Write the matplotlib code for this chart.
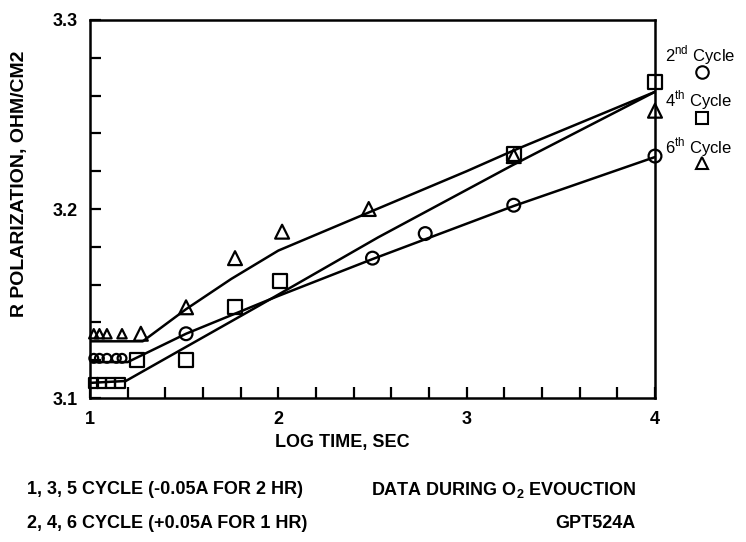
import matplotlib
matplotlib.use("Agg")
import matplotlib.pyplot as plt
from matplotlib.lines import Line2D
from matplotlib.ticker import MultipleLocator

plt.rcParams['font.family'] = ['DejaVu Sans Condensed', 'Liberation Sans Narrow',
                               'Liberation Sans', 'DejaVu Sans']

cyc2_x = [1.02, 1.05, 1.09, 1.14, 1.17, 1.51, 2.50, 2.78, 3.25, 4.00]
cyc2_y = [3.121, 3.121, 3.121, 3.121, 3.121, 3.134, 3.174, 3.187, 3.202, 3.228]

cyc4_x = [1.02, 1.06, 1.11, 1.16, 1.25, 1.51, 1.77, 2.01, 3.25, 4.00]
cyc4_y = [3.108, 3.108, 3.108, 3.108, 3.120, 3.120, 3.148, 3.162, 3.229, 3.267]

cyc6_x = [1.02, 1.05, 1.09, 1.17, 1.27, 1.51, 1.77, 2.02, 2.48, 3.25, 4.00]
cyc6_y = [3.134, 3.134, 3.134, 3.134, 3.134, 3.148, 3.174, 3.188, 3.200, 3.228, 3.252]

# hand-drawn fit curves
fit2_x = [1.0, 1.20, 1.51, 2.0, 2.5, 3.25, 4.0]
fit2_y = [3.119, 3.119, 3.134, 3.154, 3.1735, 3.2016, 3.2275]
fit4_x = [1.0, 1.19, 1.90, 2.53, 3.24, 4.0]
fit4_y = [3.108, 3.109, 3.149, 3.185, 3.223, 3.262]
fit6_x = [1.0, 1.28, 1.51, 1.75, 2.0, 2.5, 3.0, 3.25, 4.0]
fit6_y = [3.130, 3.130, 3.147, 3.163, 3.178, 3.199, 3.220, 3.231, 3.262]

x_ticks = [1, 2, 3, 4]
y_ticks = [3.1, 3.2, 3.3]
y_ticklabels = ["3.1", "3.2", "3.3"]

W, H = 746, 542
fig = plt.figure(figsize=(W / 100, H / 100), dpi=100)
ax = fig.add_axes([90 / W, 1 - 398 / H, 565 / W, 378 / H])

for fx, fy in ((fit2_x, fit2_y), (fit4_x, fit4_y), (fit6_x, fit6_y)):
    ax.plot(fx, fy, color="black", lw=1.8, solid_capstyle="round")


def sizes(xs, big, small):
    return [small if x < 1.2 else big for x in xs]


kw = dict(facecolors="none", edgecolors="black", linewidths=1.6, zorder=3, clip_on=False)
ax.scatter(cyc2_x, cyc2_y, marker="o", s=sizes(cyc2_x, 85, 40), **kw)
ax.scatter(cyc4_x, cyc4_y, marker="s", s=sizes(cyc4_x, 100, 45), **kw)
ax.scatter(cyc6_x, cyc6_y, marker="^", s=sizes(cyc6_x, 100, 45), **kw)

ax.set_xlim(1, 4)
ax.set_ylim(3.1, 3.3)
ax.set_xticks(x_ticks)
ax.set_xticklabels([str(t) for t in x_ticks])
ax.set_yticks(y_ticks)
ax.set_yticklabels(y_ticklabels)
ax.xaxis.set_minor_locator(MultipleLocator(0.2))
ax.yaxis.set_minor_locator(MultipleLocator(0.02))
ax.tick_params(which="both", direction="in", length=8, width=1.6,
               top=False, right=False)
ax.tick_params(which="major", labelsize=13, pad=9)
for lab in ax.get_xticklabels() + ax.get_yticklabels():
    lab.set_fontweight("bold")
for sp in ax.spines.values():
    sp.set_linewidth(1.8)

bold = dict(fontsize=13, fontweight="bold")
fig.text(20 / W, 1 - 184 / H, "R POLARIZATION, OHM/CM2", rotation=90,
         ha="center", va="center", fontsize=14, fontweight="bold")
fig.text(342 / W, 1 - 442 / H, "LOG TIME, SEC", ha="center", va="center", **bold)
fig.text(27 / W, 1 - 490 / H, "1, 3, 5 CYCLE (-0.05A FOR 2 HR)", ha="left", va="center", **bold)
fig.text(27 / W, 1 - 524 / H, "2, 4, 6 CYCLE (+0.05A FOR 1 HR)", ha="left", va="center", **bold)
fig.text(636 / W, 1 - 490 / H, r"DATA DURING O$_\mathregular{2}$ EVOUCTION",
         ha="right", va="center", **bold)
fig.text(636 / W, 1 - 524 / H, "GPT524A", ha="right", va="center", **bold)

# legend at right of the frame
legend_items = [
    (r"2$^\mathregular{nd}$ Cycle", "o", 55, 72),
    (r"4$^\mathregular{th}$ Cycle", "s", 100, 118),
    (r"6$^\mathregular{th}$ Cycle", "^", 147, 163),
]
for label, marker, ty, my in legend_items:
    fig.text(665 / W, 1 - ty / H, label, ha="left", va="center", fontsize=12)
    fig.add_artist(Line2D([702 / W], [1 - my / H], transform=fig.transFigure,
                          marker=marker, markersize=9, markerfacecolor="none",
                          markeredgecolor="black", markeredgewidth=1.5, ls="none"))

fig.savefig("out.png", dpi=100)
